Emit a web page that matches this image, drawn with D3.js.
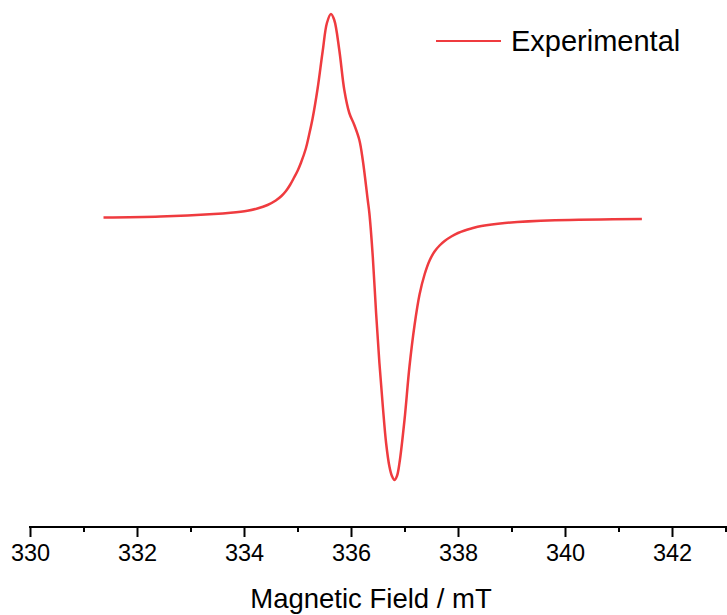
<!DOCTYPE html>
<html><head><meta charset="utf-8">
<script src="https://cdn.jsdelivr.net/npm/d3@7"></script>
<style>html,body{margin:0;padding:0;background:#fff;}svg{display:block;}</style>
</head><body>
<script>
// Field values (mT) and EPR signal (arbitrary units)
const field = [331.374,332.438,333.437,333.750,334.063,334.250,334.440,334.594,334.700,334.781,334.860,334.937,335.000,335.063,335.156,335.218,335.282,335.376,335.470,335.550,335.625,335.687,335.781,335.875,335.968,336.062,336.156,336.220,336.313,336.343,336.407,336.469,336.531,336.595,336.656,336.718,336.765,336.812,336.859,336.906,337.000,337.093,337.187,337.281,337.375,337.469,337.562,337.656,337.750,337.875,338.000,338.125,338.250,338.438,338.875,339.812,341.437];
const signal = [0.00,0.01,0.035,0.048,0.068,0.09,0.125,0.17,0.215,0.262,0.325,0.40,0.465,0.545,0.69,0.83,0.99,1.29,1.66,1.945,2.035,1.975,1.675,1.275,1.045,0.925,0.775,0.575,0.175,0.045,-0.39,-0.955,-1.455,-1.89,-2.255,-2.49,-2.585,-2.625,-2.585,-2.455,-2.025,-1.49,-1.08,-0.77,-0.57,-0.43,-0.34,-0.28,-0.235,-0.19,-0.155,-0.13,-0.11,-0.085,-0.055,-0.028,-0.015];
const majorTicks = [330,332,334,336,338,340,342];
const minorTicks = [331,333,335,337,339,341,343];
const seriesName = "Experimental";
const xTitle = "Magnetic Field / mT";

const W = 727, H = 615;
const svg = d3.select("body").append("svg").attr("width", W).attr("height", H);
const x = d3.scaleLinear().domain([330, 343]).range([30, 725.5]);
const y = d3.scaleLinear().domain([-3.095, 2.175]).range([527, 0]);
const font = "Arial, 'Liberation Sans', sans-serif";

const data = field.map((f, i) => ({f, s: signal[i]}));
svg.append("path").datum(data)
  .attr("fill", "none").attr("stroke", "#ef3b3f").attr("stroke-width", 2.5)
  .attr("stroke-linejoin", "round")
  .attr("d", d3.line().x(d => x(d.f)).y(d => y(d.s)).curve(d3.curveCatmullRom.alpha(0.5)));

// x axis
const axisY = 527;
const gMaj = svg.append("g").attr("transform", `translate(0,${axisY})`)
  .call(d3.axisBottom(x).tickValues(majorTicks).tickFormat(d3.format("d")).tickSize(10).tickPadding(7));
gMaj.select(".domain").remove();
gMaj.selectAll(".tick line").attr("stroke", "#000").attr("stroke-width", 2);
gMaj.selectAll(".tick text").attr("font-family", font).attr("font-size", 23.5).attr("fill", "#000");
const gMin = svg.append("g").attr("transform", `translate(0,${axisY})`)
  .call(d3.axisBottom(x).tickValues(minorTicks).tickFormat("").tickSize(5));
gMin.select(".domain").remove();
gMin.selectAll(".tick line").attr("stroke", "#000").attr("stroke-width", 2);
svg.append("line").attr("x1", x(330) - 1).attr("x2", W).attr("y1", axisY).attr("y2", axisY)
  .attr("stroke", "#000").attr("stroke-width", 2);

svg.append("text").attr("x", (250 + 492) / 2).attr("y", 608).attr("text-anchor", "middle")
  .attr("font-family", font).attr("font-size", 27.5).attr("fill", "#000").text(xTitle);

// legend
svg.append("line").attr("x1", 436).attr("x2", 501).attr("y1", 41).attr("y2", 41)
  .attr("stroke", "#ef3b3f").attr("stroke-width", 2);
svg.append("text").attr("x", 511).attr("y", 51)
  .attr("font-family", font).attr("font-size", 29).attr("fill", "#000").text(seriesName);
</script>
</body></html>
